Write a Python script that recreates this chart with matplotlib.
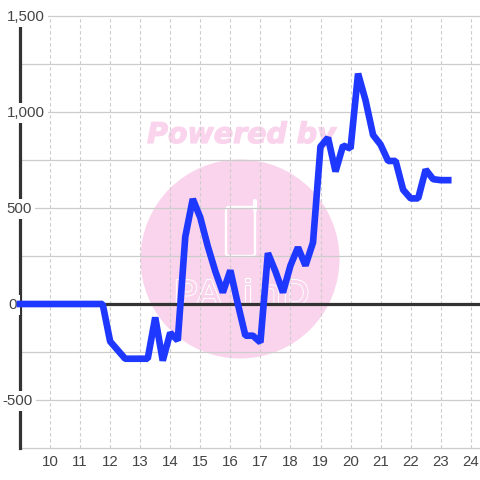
'''Hourly balance line over a faint watermark.'''
import matplotlib
matplotlib.use('Agg')
import matplotlib.pyplot as plt
import matplotlib.patheffects as pe
from matplotlib.patches import Circle, FancyBboxPatch

plt.rcParams['font.family'] = ['Liberation Sans', 'DejaVu Sans']

hours = [9, 11.75, 12, 12.25, 12.5, 12.75, 13, 13.25, 13.5, 13.75, 14, 14.25, 14.5, 14.75,
         15, 15.25, 15.5, 15.75, 16, 16.25, 16.5, 16.75, 17, 17.25, 17.5, 17.75,
         18, 18.25, 18.5, 18.75, 19, 19.25, 19.5, 19.75, 20, 20.25, 20.5, 20.75,
         21, 21.25, 21.5, 21.75, 22, 22.25, 22.5, 22.75, 23, 23.25]
values = [0, 0, -195, -240, -285, -285, -285, -285, -70, -295, -150, -190, 350, 547,
          450, 300, 170, 60, 175, 0, -165, -165, -200, 265, 170, 60,
          200, 295, 200, 320, 820, 866, 690, 825, 810, 1200, 1060, 880,
          830, 745, 745, 595, 550, 550, 700, 650, 645, 645]
x_ticks = list(range(10, 25))
y_grid = [-750, -500, -250, 0, 250, 500, 750, 1000, 1250, 1500]
y_labels = ['1,500', '1,000', '500', '0', '-500']
y_label_vals = [1500, 1000, 500, 0, -500]
y_label_left = [7, 7, 6, 8, 2]
logo_letters = ['P', 'A', 'i', 'n', 'D']
logo_left = [174, 197, 244, 260, 283]

PINK = '#fad4ec'
GRID = '#cccccc'
DARK = '#333333'
TEXT = '#444444'


def px(x, y):
    return x / 480, 1 - y / 480


def main():
    fig = plt.figure(figsize=(4.8, 4.8), dpi=100)

    # watermark sits in its own pixel-sized axes under the chart
    bg = fig.add_axes([0, 0, 1, 1], zorder=0)
    bg.set(xlim=(0, 480), ylim=(480, 0))
    bg.axis('off')
    bg.add_patch(Circle((240, 259), 99.5, fc=PINK, ec='none'))
    bg.text(241.5, 135, 'Powered by', color=PINK, fontsize=20.5, fontweight='bold', fontstyle='italic',
            ha='center', va='center', family='DejaVu Sans',
            path_effects=[pe.withStroke(linewidth=0.9, foreground=PINK)])
    bg.add_patch(FancyBboxPatch((226, 207), 29, 49, boxstyle='round,pad=0,rounding_size=3',
                                fc='none', ec='white', lw=1.7))
    bg.plot([254.5, 254.5], [201, 210], color='white', lw=3, solid_capstyle='round')
    for letter, left in zip(logo_letters, logo_left):
        bg.text(left, 305, letter, color=PINK, fontsize=26, ha='left', va='baseline',
                family='Liberation Sans',
                path_effects=[pe.withStroke(linewidth=1.6, foreground='white'), pe.Normal()])

    ax = fig.add_axes([20 / 480, 1 - 448 / 480, (480 - 20) / 480, (448 - 16) / 480], zorder=1)
    ax.patch.set_alpha(0)
    ax.set_xlim(9, 9 + (480 - 20) / 30.05)
    ax.set_ylim(-750, 1500)
    for s in ax.spines.values():
        s.set_visible(False)

    for v in y_grid:
        ax.axhline(v, color=GRID, lw=0.9, zorder=1, clip_on=False)
    for h in x_ticks:
        ax.axvline(h, color=GRID, lw=0.8, ls=(0, (3, 2.4)), zorder=1)

    ax.axvline(9, color=DARK, lw=2.3, zorder=2, clip_on=False)
    ax.axhline(0, color=DARK, lw=2.3, zorder=2)

    ax.plot(hours, values, color='#1f38ff', lw=4.8, solid_capstyle='projecting',
            solid_joinstyle='bevel', zorder=4, clip_on=False)

    ax.set_yticks([])
    ax.set_xticks(x_ticks)
    ax.set_xticklabels([str(h) for h in x_ticks], fontsize=10.8, color=TEXT)
    ax.tick_params(axis='x', length=0, pad=5)

    for lab, val, left in zip(y_labels, y_label_vals, y_label_left):
        y = 305 - val * 96 / 500
        ax.annotate(lab, xy=px(left, y), xycoords='figure fraction', ha='left', va='center',
                    fontsize=10.8, color=TEXT, zorder=3, annotation_clip=False,
                    bbox=dict(fc='white', ec='none', pad=2.4))

    fig.savefig('out.png', dpi=100)


if __name__ == '__main__':
    main()
